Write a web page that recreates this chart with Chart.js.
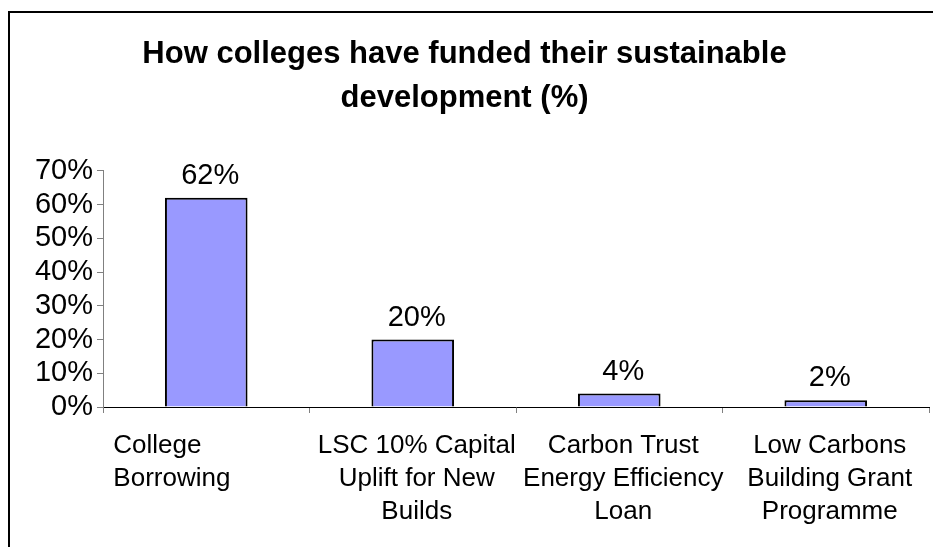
<!DOCTYPE html>
<html>
<head>
<meta charset="utf-8">
<script src="https://cdn.jsdelivr.net/npm/chart.js@4.4.1/dist/chart.umd.min.js"></script>
<style>
  html, body { margin: 0; padding: 0; background: #fff; overflow: hidden; }
  #wrap { position: relative; width: 933px; height: 547px; }
  #frame { position: absolute; left: 8px; top: 11px; width: 1000px; height: 600px;
           border-left: 2px solid #000; border-top: 2px solid #000; }
  #chart { position: absolute; left: 0; top: 0; }
</style>
</head>
<body>
<div id="wrap">
  <div id="frame"></div>
  <canvas id="chart" width="933" height="547"></canvas>
</div>
<script>
const titleLines = ['How colleges have funded their sustainable', 'development (%)'];

// categories, wrapped the way they appear under the axis
const categories = [
  ['College', 'Borrowing'],
  ['LSC 10% Capital', 'Uplift for New', 'Builds'],
  ['Carbon Trust', 'Energy Efficiency', 'Loan'],
  ['Low Carbons', 'Building Grant', 'Programme']
];
const shares = [62, 20, 4, 2];
const yTicks = [0, 10, 20, 30, 40, 50, 60, 70];

const FONT = "'Liberation Sans', Arial, sans-serif";

// value labels above the bars
const valueLabels = {
  id: 'valueLabels',
  afterDatasetsDraw(chart) {
    const ctx = chart.ctx;
    const meta = chart.getDatasetMeta(0);
    ctx.save();
    ctx.font = '29px ' + FONT;
    ctx.fillStyle = '#000';
    ctx.textAlign = 'center';
    ctx.textBaseline = 'alphabetic';
    meta.data.forEach((bar, i) => {
      ctx.fillText(shares[i] + '%', bar.x + 4, bar.y - 14);
    });
    ctx.restore();
  }
};

// category labels under the x axis (first one is left aligned like the original)
const categoryLabels = {
  id: 'categoryLabels',
  afterDraw(chart) {
    const ctx = chart.ctx;
    const x = chart.scales.x;
    const step = x.getPixelForValue(1) - x.getPixelForValue(0);
    const top = chart.chartArea.bottom + 46;
    ctx.save();
    ctx.font = '26px ' + FONT;
    ctx.fillStyle = '#000';
    ctx.textBaseline = 'alphabetic';
    categories.forEach((lines, i) => {
      const cx = x.getPixelForValue(i);
      lines.forEach((line, j) => {
        if (i === 0) {
          ctx.textAlign = 'left';
          ctx.fillText(line, cx - step * 0.45, top + j * 33);
        } else {
          ctx.textAlign = 'center';
          ctx.fillText(line, cx + 4, top + j * 33);
        }
      });
    });
    ctx.restore();
  }
};

new Chart(document.getElementById('chart'), {
  type: 'bar',
  data: {
    labels: categories.map(c => c.join(' ')),
    datasets: [{
      data: shares,
      backgroundColor: '#9999FF',
      borderColor: '#000',
      borderWidth: 2,
      borderSkipped: 'bottom',
      barPercentage: 0.8,
      categoryPercentage: 0.5
    }]
  },
  options: {
    responsive: false,
    animation: false,
    layout: { padding: { left: 0, right: 4, top: 0, bottom: 0 } },
    plugins: {
      legend: { display: false },
      tooltip: { enabled: false },
      title: {
        display: true,
        text: titleLines,
        color: '#000',
        font: { family: FONT, size: 31, weight: 'bold', lineHeight: 1.4 },
        padding: { top: 33, bottom: 51 }
      }
    },
    scales: {
      x: {
        afterFit(scale) { scale.height = 140; },
        ticks: { display: false },
        grid: { drawOnChartArea: false, offset: true, tickLength: 6, color: '#808080' },
        border: { color: '#000', width: 1 }
      },
      y: {
        min: yTicks[0],
        max: yTicks[yTicks.length - 1],
        afterFit(scale) { scale.width = 103; },
        afterBuildTicks(scale) { scale.ticks = yTicks.map(v => ({ value: v })); },
        ticks: {
          color: '#000',
          padding: 4,
          autoSkip: false,
          font: { family: FONT, size: 29 },
          callback: v => v + '%'
        },
        grid: { drawOnChartArea: false, tickLength: 6, color: '#808080' },
        border: { color: '#808080', width: 1 }
      }
    }
  },
  plugins: [valueLabels, categoryLabels]
});
</script>
</body>
</html>
